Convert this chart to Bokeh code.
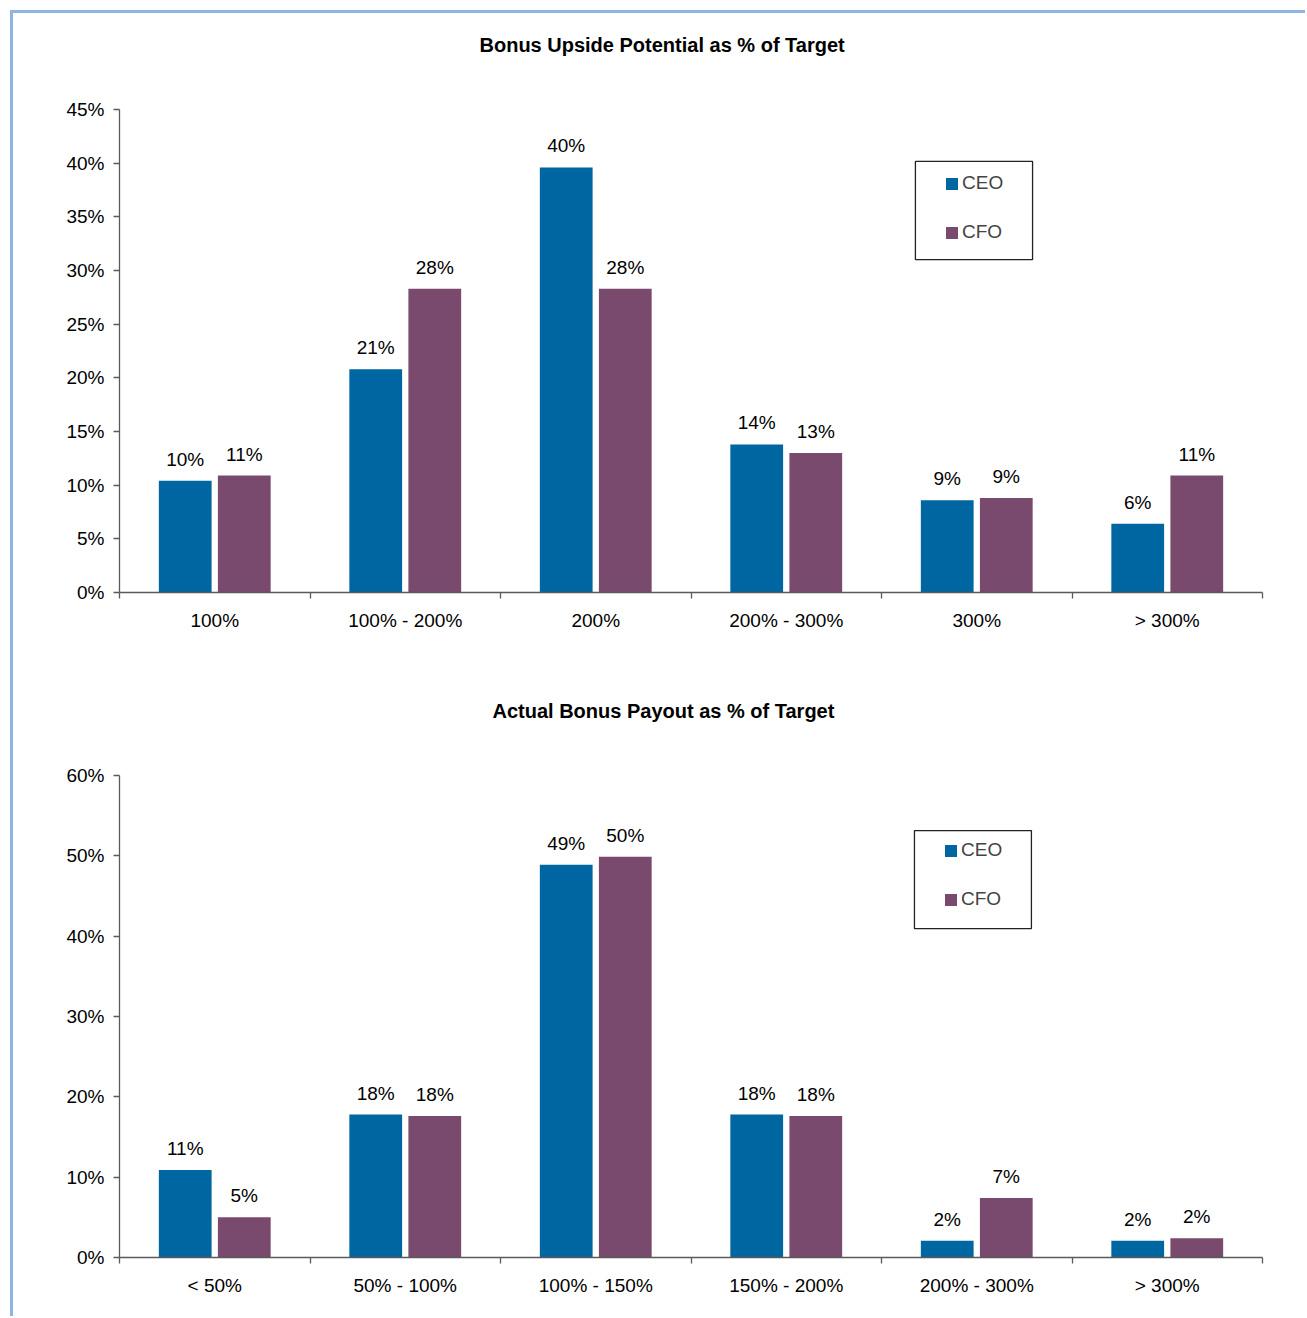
from bokeh.plotting import figure
from bokeh.layouts import column
from bokeh.models import (Range1d, LinearAxis, FixedTicker, CustomJSTickFormatter,
                          PrintfTickFormatter, Legend, LegendItem, Title, BoxAnnotation,
                          ColumnDataSource)
from bokeh.core.properties import value
from bokeh.embed import file_html
from bokeh.resources import INLINE

# ---- data -------------------------------------------------------------
upside_categories = ["100%", "100% - 200%", "200%", "200% - 300%", "300%", "> 300%"]
upside_ceo = [10.4, 20.8, 39.6, 13.8, 8.6, 6.4]
upside_cfo = [10.9, 28.3, 28.3, 13.0, 8.8, 10.9]
upside_ticks = [0, 5, 10, 15, 20, 25, 30, 35, 40, 45]

payout_categories = ["< 50%", "50% - 100%", "100% - 150%", "150% - 200%", "200% - 300%", "> 300%"]
payout_ceo = [10.9, 17.8, 48.9, 17.8, 2.1, 2.1]
payout_cfo = [5.0, 17.6, 49.9, 17.6, 7.4, 2.4]
payout_ticks = [0, 10, 20, 30, 40, 50, 60]

series_names = ["CEO", "CFO"]

# ---- style ------------------------------------------------------------
CEO_COLOR = "#0066A1"
CFO_COLOR = "#794A6D"
AXIS_COLOR = "#5A5A5A"
FONT = "Liberation Sans"
FS = "19px"
TITLE_FS = "20px"
BAR_W = 0.277
DODGE = 0.155


def build(title, title_offset, cats, ceo, cfo, ticks, height, border_top, border_bottom,
          title_gap, legend_box, legend_loc):
    n = len(cats)
    ymax = ticks[-1]
    p = figure(width=1292, height=height, output_backend="svg", toolbar_location=None,
               x_range=Range1d(0, n), y_range=Range1d(0, ymax),
               x_axis_type=None, y_axis_type=None,
               min_border_left=106, min_border_right=43,
               min_border_top=border_top, min_border_bottom=border_bottom)
    p.outline_line_color = None
    p.grid.visible = False
    p.background_fill_color = "white"
    p.border_fill_color = "white"

    centers = [i + 0.5 for i in range(n)]
    src = ColumnDataSource(dict(
        x_ceo=[c - DODGE for c in centers], x_cfo=[c + DODGE for c in centers],
        ceo=ceo, cfo=cfo,
        ceo_lbl=[f"{v:.0f}%" for v in ceo], cfo_lbl=[f"{v:.0f}%" for v in cfo]))

    r_ceo = p.vbar(x="x_ceo", top="ceo", width=BAR_W, source=src,
                   fill_color=CEO_COLOR, line_color=None)
    r_cfo = p.vbar(x="x_cfo", top="cfo", width=BAR_W, source=src,
                   fill_color=CFO_COLOR, line_color=None)

    for xs, ys, lbl in (("x_ceo", "ceo", "ceo_lbl"), ("x_cfo", "cfo", "cfo_lbl")):
        p.text(x=xs, y=ys, text=lbl, source=src, text_align="center",
               text_baseline="bottom", y_offset=-11, text_font=value(FONT),
               text_font_size=value(FS), text_color="black")

    # value axis
    yaxis = LinearAxis(ticker=FixedTicker(ticks=ticks),
                       formatter=PrintfTickFormatter(format="%d%%"))
    yaxis.axis_line_color = AXIS_COLOR
    yaxis.axis_line_width = 1.3
    yaxis.major_tick_line_color = AXIS_COLOR
    yaxis.major_tick_line_width = 1.3
    yaxis.major_tick_out = 6
    yaxis.major_tick_in = 0
    yaxis.minor_tick_line_color = None
    yaxis.major_label_standoff = 9
    yaxis.major_label_text_font = FONT
    yaxis.major_label_text_font_size = FS
    yaxis.major_label_text_color = "black"
    p.add_layout(yaxis, "left")

    # category axis: labels at bar-group centres, tick marks between groups
    xaxis = LinearAxis(ticker=FixedTicker(ticks=centers, minor_ticks=list(range(n + 1))),
                       formatter=CustomJSTickFormatter(args=dict(labels=cats),
                                                       code="return labels[Math.floor(tick)];"))
    xaxis.axis_line_color = AXIS_COLOR
    xaxis.axis_line_width = 1.3
    xaxis.major_tick_line_color = None
    xaxis.major_tick_out = 0
    xaxis.major_tick_in = 0
    xaxis.minor_tick_line_color = AXIS_COLOR
    xaxis.minor_tick_line_width = 1.3
    xaxis.minor_tick_out = 6
    xaxis.minor_tick_in = 0
    xaxis.major_label_standoff = 11
    xaxis.major_label_text_font = FONT
    xaxis.major_label_text_font_size = FS
    xaxis.major_label_text_color = "black"
    p.add_layout(xaxis, "below")

    # empty spacer panel next to the plot area, then the chart title above it
    p.add_layout(Title(text=" ", standoff=title_gap, text_font=FONT, text_font_size=FS),
                 "above")
    p.add_layout(Title(text=title, align="left", offset=title_offset,
                       vertical_align="middle", standoff=10, text_font=FONT,
                       text_font_size=TITLE_FS, text_font_style="bold", text_color="black"),
                 "above")

    left, right, top, bottom = legend_box
    p.add_layout(BoxAnnotation(left=left, right=right, top=top, bottom=bottom,
                               fill_color="white", fill_alpha=1.0,
                               line_color="#222222", line_alpha=1.0, line_width=1.3))

    legend = Legend(items=[LegendItem(label=series_names[0], renderers=[r_ceo]),
                           LegendItem(label=series_names[1], renderers=[r_cfo])],
                    location=legend_loc, padding=0, margin=0, spacing=27,
                    glyph_width=15, glyph_height=15, label_standoff=3,
                    label_text_font=FONT, label_text_font_size=FS,
                    border_line_color=None, background_fill_alpha=0)
    p.add_layout(legend)
    return p


p1 = build("Bonus Upside Potential as % of Target", 360, upside_categories,
           upside_ceo, upside_cfo, upside_ticks, height=655,
           border_top=96, border_bottom=76, title_gap=25,
           legend_box=(4.178, 4.793, 40.16, 31.02), legend_loc=(825, 349))
p2 = build("Actual Bonus Payout as % of Target", 373, payout_categories,
           payout_ceo, payout_cfo, payout_ticks, height=648,
           border_top=107, border_bottom=59, title_gap=25,
           legend_box=(4.173, 4.787, 53.15, 40.95), legend_loc=(824, 347))

page = column(p1, p2, margin=(10, 0, 0, 10),
              styles={"border-top": "3px solid #8DB4E2", "border-left": "3px solid #8DB4E2"})

open("out.html", "w").write(file_html(page, INLINE))
